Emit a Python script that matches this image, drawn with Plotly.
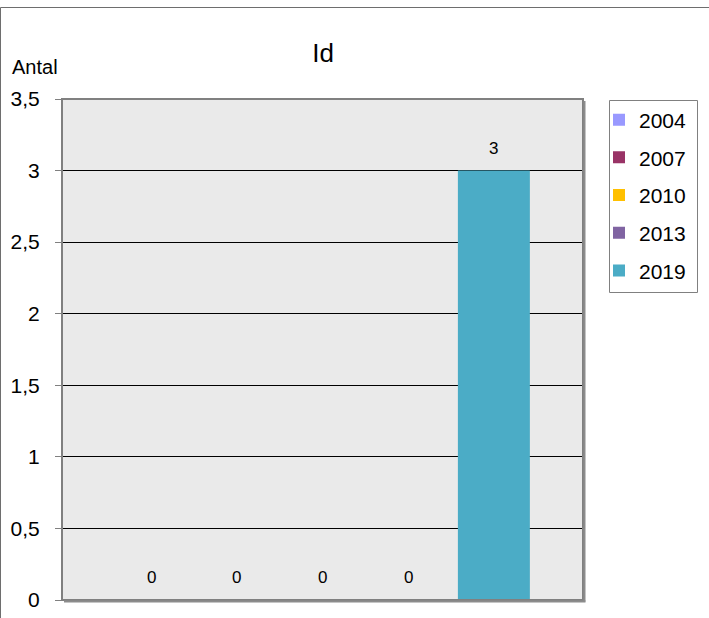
import plotly.graph_objects as go

# Data
series_names = ["2004", "2007", "2010", "2013", "2019"]
values = [0, 0, 0, 0, 3]
colors = ["#9999FF", "#993366", "#FFC000", "#8064A2", "#4BACC6"]
y_ticks = [0, 0.5, 1, 1.5, 2, 2.5, 3, 3.5]
y_tick_text = ["0", "0,5", "1", "1,5", "2", "2,5", "3", "3,5"]
title_text = "Id"
y_title = "Antal"

FONT = "Liberation Sans, Arial, sans-serif"
W, H = 709, 618
L, R, T, B = 62, 126, 99, 18
PW, PH = W - L - R, H - T - B

fig = go.Figure()
for i, (name, v, c) in enumerate(zip(series_names, values, colors)):
    fig.add_trace(go.Bar(
        x=[name], y=[v], name=name, marker=dict(color=c, line=dict(width=0)),
        legendgroup=name, showlegend=True,
    ))
    fig.add_annotation(
        x=i, y=v, xref="x", yref="y", text=str(v), showarrow=False,
        yanchor="bottom", yshift=11, font=dict(family=FONT, size=17, color="black"),
    )

def px_x(p):
    return (p - L) / PW

def px_y(p):
    return (H - B - p) / PH

shapes = [
    # plot frame
    dict(type="rect", xref="paper", yref="paper", x0=0, x1=1, y0=0, y1=1,
         line=dict(color="#808080", width=2), layer="above"),
    # shadow right / bottom
    dict(type="line", xref="paper", yref="paper", x0=px_x(L + PW + 1.5), x1=px_x(L + PW + 1.5),
         y0=px_y(T + 2), y1=px_y(T + PH + 1.5), line=dict(color="#8c8c8c", width=2), layer="above"),
    dict(type="line", xref="paper", yref="paper", x0=px_x(L + 2), x1=px_x(L + PW + 2.5),
         y0=px_y(T + PH + 1.5), y1=px_y(T + PH + 1.5), line=dict(color="#8c8c8c", width=2), layer="above"),
    # outer chart border (top and left visible)
    dict(type="line", xref="paper", yref="paper", x0=px_x(0.5), x1=px_x(W + 5),
         y0=px_y(7.5), y1=px_y(7.5), line=dict(color="#6e6e6e", width=1)),
    dict(type="line", xref="paper", yref="paper", x0=px_x(0.5), x1=px_x(0.5),
         y0=px_y(7.5), y1=px_y(H + 5), line=dict(color="#6e6e6e", width=1)),
    # legend box
    dict(type="rect", xref="paper", yref="paper", x0=px_x(609.5), x1=px_x(697.5),
         y0=px_y(292.5), y1=px_y(100.5), line=dict(color="#808080", width=1),
         fillcolor="white", layer="below"),
]

fig.add_annotation(text=y_title, xref="paper", yref="paper", x=px_x(10), y=px_y(67),
                   xanchor="left", yanchor="middle", showarrow=False,
                   font=dict(family=FONT, size=20, color="black"))

fig.update_layout(
    width=W, height=H,
    margin=dict(l=L, r=R, t=T, b=B, autoexpand=False),
    paper_bgcolor="white", plot_bgcolor="#EAEAEA",
    barmode="overlay", bargap=0.16,
    separators=",.",
    font=dict(family=FONT, size=20, color="black"),
    title=dict(text=title_text, xref="container", x=323 / W, xanchor="center",
               yref="container", y=1 - 53 / H, yanchor="middle",
               font=dict(family=FONT, size=26, color="black")),
    xaxis=dict(type="category", range=[-1.04, 5.04], showticklabels=False, ticks="",
               showgrid=False, zeroline=False, showline=False, fixedrange=True),
    yaxis=dict(range=[0, 3.5], tickvals=y_ticks, ticktext=y_tick_text,
               showgrid=True, gridcolor="black", gridwidth=1, zeroline=False,
               ticks="outside", ticklen=6, tickcolor="#808080", tickwidth=1,
               showline=False, ticklabelstandoff=11,
               tickfont=dict(family=FONT, size=21, color="black")),
    legend=dict(x=px_x(599), y=px_y(99.5), xanchor="left", yanchor="top",
                bgcolor="rgba(0,0,0,0)", borderwidth=0,
                traceorder="grouped", tracegroupgap=7.4,
                font=dict(family=FONT, size=21, color="black")),
    shapes=shapes,
    showlegend=True,
)

fig.write_html("out.html", config={"displayModeBar": False},
               post_script="document.body.style.margin='0';")
